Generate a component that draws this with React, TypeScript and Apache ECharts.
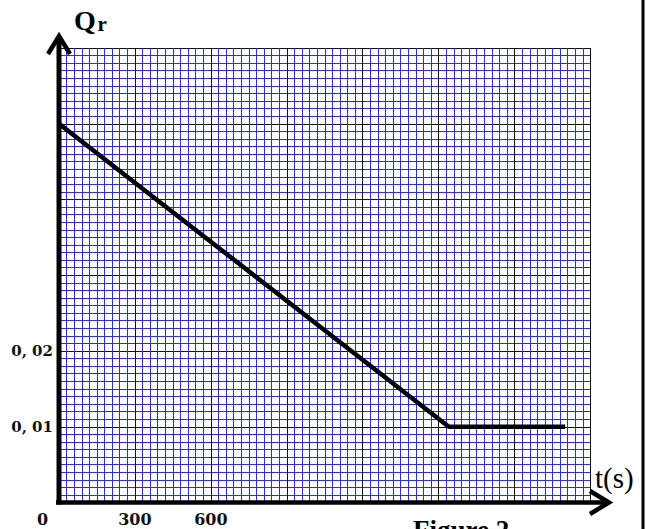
import React, { useEffect, useRef } from "react";
import * as echarts from "echarts";

// Data
const seriesPoints: [number, number][] = [
  [0, 0.05],
  [1540, 0.01],
  [2000, 0.01],
];
const xLabelValues = [0, 300, 600];
const xLabelTexts = ["0", "300", "600"];
const yLabelValues = [0.01, 0.02];
const yLabelTexts = ["0, 01", "0, 02"];
const xMax = 2100;
const yMax = 0.06;

const NUM_FONT = "DejaVu Serif";
const TIMES = "Liberation Serif";

export default function App() {
  const ref = useRef<HTMLDivElement>(null);
  useEffect(() => {
    if (!ref.current) return;
    const chart = echarts.init(ref.current, undefined, { renderer: "svg" });
    const near = (a: number, b: number) => Math.abs(a - b) < 1e-9;
    const txt = (
      text: string,
      x: number,
      y: number,
      size: number,
      weight: string,
      va: string
    ) => ({
      type: "text",
      z: 100,
      x,
      y,
      style: {
        text,
        fontFamily: TIMES,
        fontSize: size,
        fontWeight: weight,
        fill: "#000",
        verticalAlign: va,
        align: "left",
      },
    });
    chart.setOption({
      animation: false,
      backgroundColor: "#fff",
      grid: { left: 59, top: 48, width: 531.5, height: 454.5, containLabel: false },
      xAxis: {
        type: "value",
        min: 0,
        max: xMax,
        interval: 300,
        axisLine: { show: false },
        axisTick: { show: false },
        minorTick: { show: false, splitNumber: 10 },
        splitLine: { show: true, lineStyle: { color: "#111", width: 1 } },
        minorSplitLine: { show: true, lineStyle: { color: "#2a2aff", width: 1 } },
        axisLabel: {
          show: true,
          margin: 9,
          fontFamily: NUM_FONT,
          fontWeight: "bold",
          fontSize: 16,
          color: "#111",
          formatter: (v: number) => {
            const i = xLabelValues.findIndex((x) => near(x, v));
            if (i < 0) return "";
            if (v === 0) return "{z|" + xLabelTexts[i] + "}";
            return xLabelTexts[i];
          },
          rich: {
            z: {
              fontFamily: NUM_FONT,
              fontWeight: "bold",
              fontSize: 16,
              color: "#111",
              padding: [0, 33, 0, 0],
            },
          },
        },
      },
      yAxis: {
        type: "value",
        min: 0,
        max: yMax,
        interval: 0.01,
        axisLine: { show: false },
        axisTick: { show: false },
        minorTick: { show: false, splitNumber: 10 },
        splitLine: { show: true, lineStyle: { color: "#111", width: 1 } },
        minorSplitLine: { show: true, lineStyle: { color: "#2a2aff", width: 1 } },
        axisLabel: {
          show: true,
          margin: 6,
          fontFamily: NUM_FONT,
          fontWeight: "bold",
          fontSize: 15,
          color: "#111",
          formatter: (v: number) => {
            const i = yLabelValues.findIndex((y) => near(y, v));
            return i < 0 ? "" : yLabelTexts[i];
          },
        },
      },
      series: [
        {
          type: "line",
          data: seriesPoints,
          symbol: "none",
          lineStyle: { color: "#000", width: 4.5 },
          z: 5,
        },
      ],
      graphic: [
        // y axis
        {
          type: "line",
          z: 100,
          shape: { x1: 59, y1: 504.5, x2: 59, y2: 37 },
          style: { stroke: "#000", lineWidth: 5 },
        },
        {
          type: "polyline",
          z: 100,
          shape: { points: [[48, 54], [59, 36], [70, 54]] },
          style: { stroke: "#000", lineWidth: 4.5, fill: null, lineJoin: "miter" },
        },
        // x axis
        {
          type: "line",
          z: 100,
          shape: { x1: 56, y1: 502.5, x2: 607, y2: 502.5 },
          style: { stroke: "#000", lineWidth: 4.5 },
        },
        {
          type: "polyline",
          z: 100,
          shape: { points: [[590, 491], [609, 502.5], [590, 514]] },
          style: { stroke: "#000", lineWidth: 4.5, fill: null, lineJoin: "miter" },
        },
        // page border on the right
        {
          type: "rect",
          z: 100,
          shape: { x: 641.5, y: 0, width: 3, height: 529 },
          style: { fill: "#000" },
        },
        // axis names
        txt("Q", 74, 20.5, 28, "bold", "middle"),
        txt("r", 97.5, 23.6, 21, "bold", "middle"),
        txt("t(s)", 595, 478, 29, "normal", "middle"),
        txt("Figure 2", 413, 516, 27, "bold", "top"),
      ],
    });
    return () => chart.dispose();
  }, []);
  return (
    <div
      ref={ref}
      style={{ position: "absolute", left: 0, top: 0, width: 651, height: 529, background: "#fff" }}
    />
  );
}
